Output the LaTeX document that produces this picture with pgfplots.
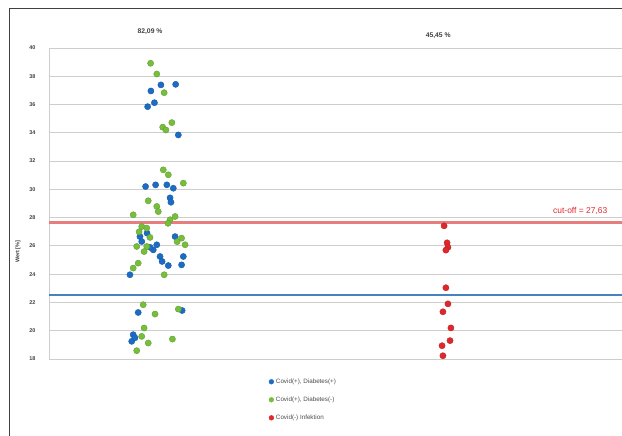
\documentclass[border=0pt]{standalone}
\usepackage{pgfplots}
\pgfplotsset{compat=1.18}
\usepackage{fontspec}
\setmainfont{Liberation Sans}
\usetikzlibrary{calc}
\definecolor{cblue}{RGB}{28,108,196}
\definecolor{cgreen}{RGB}{118,190,60}
\definecolor{cred}{RGB}{222,40,44}
\definecolor{redline}{RGB}{232,125,125}
\definecolor{blueline}{RGB}{70,130,190}
\definecolor{gridc}{RGB}{205,205,205}
\begin{document}
\begin{tikzpicture}[x=1bp,y=1bp]
\begin{axis}[
  scale only axis,
  width=573bp, height=311bp,
  xmin=0.6576, xmax=2.6,
  ymin=18, ymax=40,
  ytick={18,20,...,40},
  xtick=\empty,
  ymajorgrids,
  major grid style={gridc, line width=0.9bp},
  axis x line*=bottom,
  axis y line*=left,
  axis line style={gridc, line width=0.9bp},
  major tick length=0pt,
  yticklabel style={font=\fontsize{5.5}{6}\selectfont\bfseries, text=black!75, xshift=-10bp},
  /pgf/number format/assume math mode=true,
  clip=false,
  legend style={at={(axis description cs:0.378,-0.050)}, anchor=north west, draw=none, fill=none,
    font=\fontsize{6.3}{7}\selectfont, row sep=8bp, text=black!70},
  legend cell align=left,
  legend image code/.code={\fill (0bp,0bp) circle (2.4bp);},
]
\addplot[blueline, line width=2bp, forget plot] coordinates {(0.6576,22.54) (2.6,22.54)};
\addplot[redline, line width=3bp, forget plot] coordinates {(0.6576,27.63) (2.6,27.63)};
\addplot[only marks, mark=*, mark size=3.1bp, cblue, mark options={draw=cblue!85!black, fill=cblue}] coordinates {
(1.037,37.39) (1.087,37.43) (1.003,36.96) (1.015,36.13) (0.992,35.85) (1.096,33.85)
(0.985,30.20) (1.019,30.32) (1.057,30.32) (1.079,30.08) (1.068,29.40) (1.071,29.09)
(0.966,26.66) (1.085,26.66) (0.972,26.31) (1.023,26.08) (1.011,25.72) (1.034,25.25)
(1.113,25.25) (1.107,24.66) (1.062,24.61) (0.932,23.96) (0.960,21.29) (1.109,21.43)
(0.943,19.72) (0.938,19.25) (0.990,26.90) (1.041,24.90) (0.949,19.50) (1.000,25.90)
};
\addlegendentry{Covid(+), Diabetes(+)}
\addplot[only marks, mark=*, mark size=3.1bp, cgreen, mark options={draw=cgreen!85!black, fill=cgreen}] coordinates {
(1.002,38.92) (1.023,38.16) (1.048,36.84) (1.043,34.40) (1.074,34.72) (1.054,34.20)
(1.045,31.38) (1.062,31.03) (1.113,30.44) (0.994,29.19) (1.023,28.79) (1.028,28.43)
(0.943,28.20) (1.085,28.08) (1.068,27.85) (0.972,27.37) (0.989,27.26) (1.107,26.55)
(0.955,25.96) (0.989,25.96) (1.119,26.08) (0.960,24.78) (0.943,24.43) (1.048,23.96)
(0.977,21.84) (1.017,21.18) (1.096,21.53) (0.980,20.19) (0.972,19.60) (0.994,19.13)
(1.076,19.41) (0.955,18.59) (1.000,26.60) (1.061,27.60) (0.980,25.60) (0.963,27.00)
(1.092,26.30)
};
\addlegendentry{Covid(+), Diabetes(-)}
\addplot[only marks, mark=*, mark size=3.1bp, cred, mark options={draw=cred!85!black, fill=cred}] coordinates {
(1.997,27.42) (2.007,26.22) (2.010,25.90) (2.003,25.70) (2.003,23.04) (2.010,21.90)
(1.993,21.34) (2.020,20.20) (2.017,19.30) (1.990,18.94) (1.993,18.23)
};
\addlegendentry{Covid(-) Infektion}
\node[font=\fontsize{6.8}{7}\selectfont\bfseries, text=black!75] at (axis cs:1.0,41.13) {82,09 \%};
\node[font=\fontsize{6.8}{7}\selectfont\bfseries, text=black!75] at (axis cs:1.977,40.85) {45,45 \%};
\node[font=\fontsize{8.5}{9}\selectfont, text=cred, anchor=west, inner sep=0pt] at (axis cs:2.366,28.48) {cut-off = 27,63};
\node[rotate=90, font=\fontsize{5.5}{6}\selectfont\bfseries, text=black!75, yshift=31bp] at (axis cs:0.6576,25.6) {Wert [\%]};
\end{axis}
\draw[black!75, line width=0.8bp] ($(current axis.south west)+(-40bp,-80bp)$) -- ($(current axis.north west)+(-40bp,40bp)$) -- ($(current axis.north east)+(10bp,40bp)$);
\pgfresetboundingbox
\path[use as bounding box] ($(current axis.south west)+(-49bp,-77bp)$) rectangle ($(current axis.north east)+(0,48bp)$);
\end{tikzpicture}
\end{document}
